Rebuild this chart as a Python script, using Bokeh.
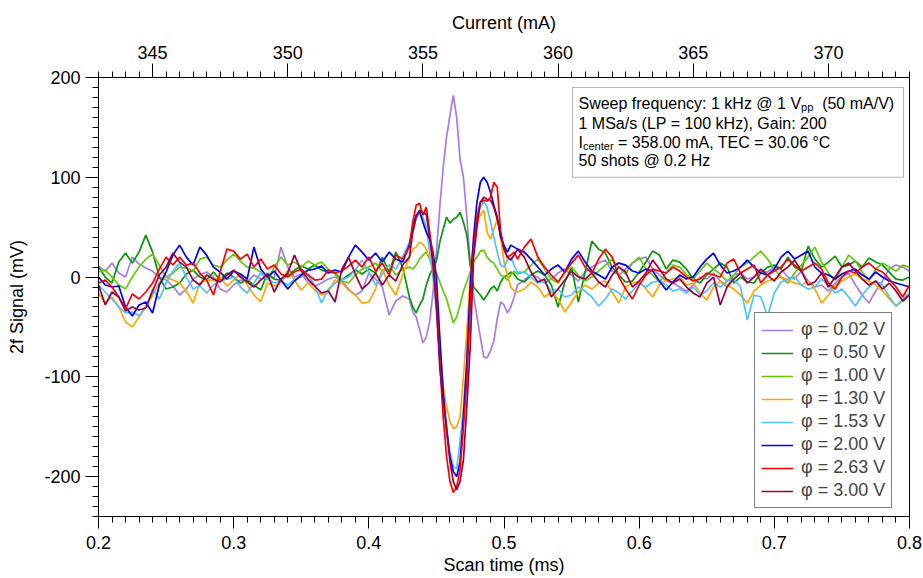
import numpy as np
from bokeh.plotting import figure
from bokeh.models import (Range1d, LinearAxis, SingleIntervalTicker, Legend, LegendItem,
                          BoxAnnotation, Label, PrintfTickFormatter)
from bokeh.embed import file_html
from bokeh.resources import INLINE

# ---------------- data ----------------
# sampling grid (ms): 5 us steps, 2.5 us steps around the absorption feature
time_ms = np.concatenate([
    np.round(np.arange(0.200, 0.4301, 0.005), 4),
    np.round(np.arange(0.4325, 0.5101, 0.0025), 4),
    np.round(np.arange(0.515, 0.8001, 0.005), 4),
])

labels = ["φ = 0.02 V", "φ = 0.50 V", "φ = 1.00 V", "φ = 1.30 V",
          "φ = 1.53 V", "φ = 2.00 V", "φ = 2.63 V", "φ = 3.00 V"]
colors = ["#a77de3", "#08960a", "#66c80a", "#ffa600", "#4cc3ff", "#0000f0", "#ff0000", "#990040"]

sig_002 = ([11, 6, 14, 4, 0, 20, 13, 9, 6, 0, -3, -9, -18, -12, -2, 2, 5, 0, -12, -15, -8, -3, -5, 2, -2,
            0, -1, 30, 10, 0, 3, -5, -9, -6, -2, 0, -4, -12, -18, -14, 4, -2, -10, -38, -24, -19, -22]
           + [-35, -40, -52, -66, -60, -45, -15, 25, 70, 110, 140, 162, 182, 160, 118, 100,
              60, 15, -18, -40, -60, -80, -81, -74, -64, -42, -25, -28, -36, -30, -20, -8]
           + [-3, 2, 0, -6, -2, 4, 8, 2, -4, 5, 10, 14, 17, 6, 2, 8, 14, 18, 20, 8, 2, -4, -6, -10, -14, -8, 0, -2, 4,
              -4, -10, 2, 4, -2, 0, 6, 5, 10, 8, 0, -2, 6, -4, -10, -8, -14, -6, 0, 4, -8, -18, -26, -14, -4, 8, 12, 10, 6])
sig_050 = ([10, 0, -6, 15, 24, 14, 25, 42, 25, 0, -12, -10, -6, 3, 7, 0, -3, 5, -3, 4, 0, -6, -3, -8, -13,
            4, -2, -3, 2, 7, 11, 8, 12, 7, 5, 4, -3, 2, 7, 3, 8, 4, 20, 5, 25, 10, -20]
           + [-30, -36, -28, -22, -8, 2, 10, 16, 35, 48, 60, 54, 58, 60, 65, 55,
              42, 12, -10, -14, -18, -23, -18, -12, -9, -14, -5, 0, 2, 5, 3, -2]
           + [-5, 2, 6, 2, -8, -30, -5, 10, -25, 5, 36, 28, 24, 10, 2, -5, -4, 5, 15, 26, 22, 8, 17, 15, 8, -2, -6, 2, 8,
              14, 10, -6, 0, -5, -6, 4, 10, 12, 8, 20, 10, 6, 31, 18, 10, 15, 21, 10, 12, 16, 10, 19, 15, 12, 5, -2, -3, 0])
sig_100 = ([5, 7, 0, -8, -12, 0, 10, 18, 23, 12, 0, 4, 10, 9, 6, 18, 20, 12, 10, 17, 23, 16, 10, 9, 5,
            -3, 10, 20, 12, 15, 10, 16, 12, 15, 8, 3, -4, -6, 2, 8, 10, 14, 6, 12, 2, 8, 10]
           + [8, 12, 18, 22, 25, 18, 8, 4, -5, -14, -22, -34, -46, -40, -28, -14,
              -5, 5, 15, 20, 26, 27, 20, 16, 14, 8, 2, 0, -3, 2, 6, 3]
           + [5, 12, 18, 8, -2, -6, 5, 10, 2, -4, 0, 6, 12, 18, 10, 3, 14, 20, 8, 2, -5, 4, 12, 10, 2, -2, 6, 14, 8,
              3, -4, 2, 10, 14, 20, 26, 18, 8, 0, -6, 4, 12, 20, 30, 15, 4, -3, 10, 22, 16, 5, -4, 8, 14, 10, 6, 12, 10])
sig_130 = ([-16, -26, -20, -30, -45, -50, -40, -30, -18, -5, 0, -3, -6, -14, -26, -6, -3, -3, 0, -9, -3, 3, -8, -18, -25,
            -6, -9, -6, 7, -3, -13, -6, -13, -18, -15, -3, -6, -13, -18, -26, -25, -12, 8, -8, -18, 2, 20]
           + [28, 30, 35, 33, 28, 18, 8, -20, -70, -110, -130, -145, -152, -150, -140, -100,
              -55, 0, 35, 55, 62, 67, 45, 38, 48, 58, 40, 15, 2, -10, -14, -15]
           + [-12, -5, -10, -20, -15, -22, -35, -25, -15, -8, -12, -6, -4, -15, -26, -10, -6, -4, -12, -20, -8, -3, -2, 0,
              -8, -6, -16, -23, -10, -4, -8, -12, -18, -26, -14, -8, -4, -2, 0, -3, -6, -8, -4, -12, -26, -18, -8, -4, 0, 3,
              -2, -4, -8, -14, -22, -29, -24, -18])
sig_153 = ([-8, -15, -22, -30, -36, -35, -39, -30, -12, -22, -6, 6, 14, 0, -12, -9, -16, -8, -4, -2, 0, -10, -16, -6, 4,
            -2, -6, -4, -8, -2, 0, 3, -9, -26, -12, -6, -3, 0, 7, 17, 5, -8, 3, 12, 8, 20, 35]
           + [45, 58, 64, 60, 50, 25, 0, -35, -80, -115, -150, -175, -190, -192, -165, -130,
              -85, -20, 30, 60, 70, 76, 70, 55, 40, 25, 12, 10, 17, 20, 12, 5]
           + [5, 0, -6, -4, -15, -12, -20, -18, -10, -14, -20, -29, -22, -12, -16, -22, -14, -6, -10, -5, -4, -8, -14, -12,
              -16, -10, -18, -14, -6, -10, -4, -2, -10, -43, -18, -20, -39, -16, -5, -2, 0, -8, -12, -10, -2, -8, -16, -12,
              -20, -29, -18, -10, -4, -8, -20, -29, -22, -16])
sig_200 = ([0, -8, -10, -9, -30, -39, -28, -25, -36, -8, 5, 22, 32, 20, 12, 30, 22, 10, 5, -2, 6, 3, -2, 30, 8,
            0, 6, -3, -12, -4, 2, 7, 8, 11, 4, 7, 5, 20, 32, 25, 17, 24, 15, 25, 18, 15, 32]
           + [50, 62, 66, 55, 45, 38, 25, 0, -60, -115, -155, -180, -195, -200, -185, -140,
              -85, -10, 40, 75, 95, 100, 95, 85, 72, 60, 40, 32, 25, 32, 30, 28]
           + [25, 18, 10, 2, 8, 12, 5, 18, 26, 15, 6, 2, -2, 10, 14, 12, 6, 4, 8, 6, -4, -13, -5, 2, -2, 0, 10, 18, 24,
              12, 4, 6, 10, 17, 10, 4, 2, 8, 20, 26, 18, 22, 26, 10, 4, 2, -2, 3, 6, 8, 2, -2, 5, 0, -4, -6, -8, -10])
sig_263 = ([-6, -3, -10, -20, -32, -17, -22, -15, -6, 8, 20, 12, 20, 12, 14, 4, -3, -18, 5, 28, 26, 18, 23, 10, 18,
            8, 12, 3, 0, 5, 8, 2, -3, -2, 7, 4, 6, 11, 17, 10, 20, 6, 14, 2, 22, 18, 30]
           + [55, 72, 74, 62, 70, 45, 20, -20, -85, -140, -180, -205, -216, -210, -193, -150,
              -105, -30, 30, 60, 75, 77, 76, 80, 95, 90, 45, 28, 20, 22, 25, 18]
           + [30, 38, 20, 10, 2, -5, 5, 14, 22, 10, 4, 18, 28, 20, 0, -12, -22, -8, 2, 8, 6, 4, 10, 6, 0, -4, -2, 4, 2,
              0, 14, 18, 4, 8, 12, -6, 2, 6, 10, 18, 12, 6, 10, 14, 8, -6, -12, 0, 6, 4, 10, 14, 8, 5, -2, -10, -20, -8])
sig_300 = ([-8, -28, -15, -20, -34, -30, -33, -31, -14, 2, 10, 24, 15, 10, -3, -8, 2, -2, -5, 2, 7, 0, -5, -10, -3,
            3, -15, -2, 4, 22, 6, -2, -9, -16, -14, -25, 8, 20, 3, -12, -6, 4, -8, 2, -4, 12, 20]
           + [45, 60, 67, 64, 63, 40, 12, -30, -90, -125, -150, -185, -205, -213, -205, -183,
              -130, -70, 20, 50, 75, 80, 78, 77, 70, 58, 45, 28, 20, 17, 22, 28]
           + [20, 5, -5, -2, -20, -12, -3, 6, 0, -2, 4, -5, -10, 2, 10, 5, -10, -4, 4, 17, 8, -2, -6, -2, -10, -16, -20,
              -6, 0, -28, -10, -2, 4, -6, 0, 8, 2, -4, 5, 10, 17, 6, -8, -5, 4, -10, 0, 10, 14, 6, -2, -8, -4, -12, -6,
              -14, -24, -18])

series = [sig_002, sig_050, sig_100, sig_130, sig_153, sig_200, sig_263, sig_300]

# ---------------- figure ----------------
FONT = "Liberation Sans"
p = figure(width=923, height=578, x_range=Range1d(0.2, 0.8), y_range=Range1d(-240, 200),
           output_backend="svg", toolbar_location=None,
           min_border_left=98, min_border_right=14, min_border_top=77, min_border_bottom=62,
           x_axis_label="Scan time (ms)", y_axis_label="2f Signal (mV)")
p.xgrid.visible = False
p.ygrid.visible = False
p.outline_line_color = "black"
p.outline_line_width = 1
p.background_fill_color = "white"
p.border_fill_color = "white"

bottom_axis = p.below[0]
left_axis = p.left[0]

p.extra_x_ranges = {"current": Range1d(343, 373)}
top_axis = LinearAxis(x_range_name="current", axis_label="Current (mA)")
p.add_layout(top_axis, "above")

bottom_axis.ticker = SingleIntervalTicker(interval=0.1, num_minor_ticks=10)
left_axis.ticker = SingleIntervalTicker(interval=100, num_minor_ticks=10)
left_axis.formatter = PrintfTickFormatter(format="%d")
top_axis.ticker = SingleIntervalTicker(interval=5, num_minor_ticks=10)

for ax in [bottom_axis, left_axis, top_axis]:
    ax.axis_line_color = "black"
    ax.axis_line_width = 1
    ax.major_tick_line_color = "black"
    ax.minor_tick_line_color = "black"
    ax.major_tick_in = 0
    ax.minor_tick_in = 0
    ax.minor_tick_out = 6
    ax.major_label_text_font = FONT
    ax.major_label_text_font_size = "18px"
    ax.major_label_text_color = "black"
    ax.axis_label_text_font = FONT
    ax.axis_label_text_font_size = "18px"
    ax.axis_label_text_font_style = "normal"
    ax.axis_label_text_color = "black"

bottom_axis.major_tick_out = 12
bottom_axis.major_label_standoff = 7
bottom_axis.axis_label_standoff = 3
left_axis.major_tick_out = 13
left_axis.major_label_standoff = 5
left_axis.axis_label_standoff = 14
top_axis.major_tick_out = 14
top_axis.major_label_standoff = 5
top_axis.axis_label_standoff = 10

items = []
for lab, col, ys in zip(labels, colors, series):
    r = p.line(time_ms, ys, line_color=col, line_width=1.7)
    items.append(LegendItem(label=lab, renderers=[r]))

legend = Legend(items=items, location=(656, 8), label_text_font=FONT, label_text_font_size="18px",
                glyph_width=32, glyph_height=20, label_height=20, label_standoff=8, spacing=2,
                padding=6, margin=0, border_line_color="black", border_line_width=1,
                background_fill_color="white", background_fill_alpha=1)
p.add_layout(legend)

# info box
p.add_layout(BoxAnnotation(left=0.5507, right=0.7956, bottom=100, top=190, fill_color="white",
                           fill_alpha=1, line_color="black", line_width=1, level="overlay"))
x0 = 0.5551
FS = 16
MAIN, SUB = "%.1fpx" % FS, "11px"

def txt(y, s, dx=0, dy=0, size=MAIN):
    p.add_layout(Label(x=x0, y=y, text=s, x_offset=dx, y_offset=dy, text_font=FONT,
                       text_font_size=size, text_baseline="middle", text_align="left",
                       text_color="black", level="overlay"))

w1 = 13.91 * FS
txt(174, "Sweep frequency: 1 kHz @ 1 V")
txt(174, "pp", dx=w1, dy=-4, size=SUB)
txt(174, "(50 mA/V)", dx=w1 + 12.2 + 8.9)
txt(154, "1 MSa/s (LP = 100 kHz), Gain: 200")
txt(135, "I")
txt(135, "center", dx=4.5, dy=-4, size=SUB)
txt(135, "= 358.00 mA, TEC = 30.06 °C", dx=4.5 + 30.6 + 4.4)
txt(117, "50 shots @ 0.2 Hz")

open("out.html", "w").write(file_html(p, INLINE))
